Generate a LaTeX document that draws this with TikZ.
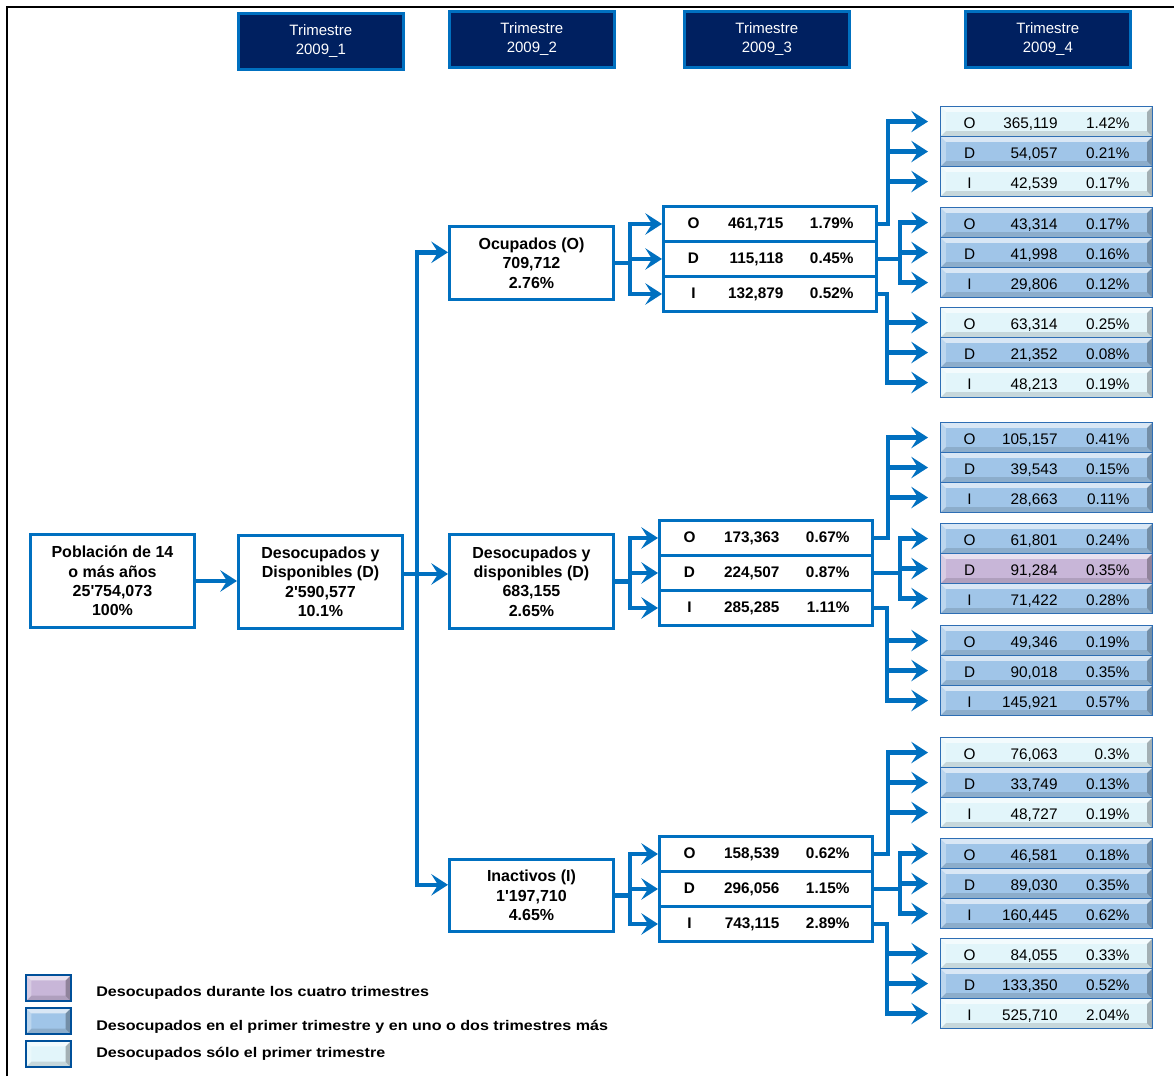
\documentclass[tikz,border=0pt]{standalone}
\usepackage{fontspec}
\setmainfont{Liberation Sans}
\newfontfamily\legfont{Liberation Sans}[FakeStretch=1.15]
\usetikzlibrary{arrows.meta,backgrounds}
\definecolor{cblue}{RGB}{0,112,192}
\definecolor{navy}{RGB}{0,32,96}
\definecolor{lightc}{RGB}{226,245,250}
\definecolor{medc}{RGB}{160,197,232}
\definecolor{purc}{RGB}{200,182,216}
\definecolor{rowline}{RGB}{46,110,180}
\definecolor{shad}{RGB}{20,40,80}
\newcommand\cthree[3]{\hbox to 159.75pt{\makebox[45pt][c]{#1}\makebox[45pt][r]{#2}\makebox[52.5pt][r]{#3}\hfil}}
\newcommand\cfour[3]{\hbox to 159pt{\rule{0pt}{12pt}\makebox[43.5pt][c]{#1}\makebox[44.25pt][r]{#2}\makebox[54pt][r]{#3}\hfil}}
\tikzset{
  hdr/.style={draw=cblue, line width=2pt, fill=navy, text=white, font=\fontsize{11.25}{14.25}\selectfont, align=center, minimum width=123.75pt, minimum height=42pt, inner sep=0pt, anchor=north west},
  bbox/.style={draw=cblue, line width=2.2pt, fill=white, font=\bfseries\fontsize{12}{14.6}\selectfont, align=center, minimum width=123pt, inner sep=0pt, anchor=north west},
  cthreerow/.style={draw=cblue, line width=2.2pt, fill=white, font=\bfseries\fontsize{11.5}{13}\selectfont, minimum width=159.75pt, minimum height=26.25pt, inner sep=0pt, anchor=north west},
  bev/.style={path picture={
    \fill[white,opacity=.6] (path picture bounding box.north west) -- (path picture bounding box.north east) -- ([shift={(-4pt,-4pt)}]path picture bounding box.north east) -- ([shift={(4pt,-4pt)}]path picture bounding box.north west) -- cycle;
    \fill[white,opacity=.3] (path picture bounding box.north west) -- ([shift={(4pt,-4pt)}]path picture bounding box.north west) -- ([shift={(4pt,4pt)}]path picture bounding box.south west) -- (path picture bounding box.south west) -- cycle;
    \fill[black,opacity=.12] (path picture bounding box.south west) -- ([shift={(4pt,4pt)}]path picture bounding box.south west) -- ([shift={(-4pt,4pt)}]path picture bounding box.south east) -- (path picture bounding box.south east) -- cycle;
    \fill[black,opacity=.28] (path picture bounding box.north east) -- (path picture bounding box.south east) -- ([shift={(-4pt,4pt)}]path picture bounding box.south east) -- ([shift={(-4pt,-4pt)}]path picture bounding box.north east) -- cycle;
  }},
  cfourrow/.style={draw=rowline, line width=0.8pt, fill=#1, bev, font=\fontsize{11.5}{13}\selectfont, minimum width=159pt, minimum height=22.5pt, inner sep=0pt, anchor=north west},
  legsq/.style={draw=navy!40!cblue, line width=1.5pt, fill=#1, bev, minimum width=33.75pt, minimum height=19.5pt, inner sep=0pt, anchor=north west},
  legtxt/.style={font=\legfont\bfseries\fontsize{10.5}{12}\selectfont, anchor=west, inner sep=0pt},
  conn/.style={draw=cblue, line width=3.4pt, -{Stealth[length=12.5pt,width=16pt,inset=5pt]}},
  connf/.style={conn, shorten >=9pt},
}
\begin{document}
\begin{tikzpicture}[x=0.75pt,y=-0.75pt]
\useasboundingbox (0,0) rectangle (1174,1076);
\fill[white] (0,0) rectangle (1174,1076);
\draw[line width=1.8pt] (7,1076) -- (7,7) -- (1174,7);

% headers
\node[hdr] (h1) at (237,12) {Trimestre\\2009\_1};
\node[hdr] (h2) at (448,10) {Trimestre\\2009\_2};
\node[hdr] (h3) at (683,10) {Trimestre\\2009\_3};
\node[hdr] (h4) at (964,10) {Trimestre\\2009\_4};

% main boxes
\node[bbox, minimum height=69.75pt] (pob) at (29,533) {Población de 14\\o más años\\25\textquotesingle 754,073\\100\%};
\node[bbox, minimum height=69.75pt] (dd) at (237,534) {Desocupados y\\Disponibles (D)\\2\textquotesingle 590,577\\10.1\%};
\node[bbox, minimum height=54.75pt] (ocup) at (448,225) {Ocupados (O)\\709,712\\2.76\%};
\node[bbox, minimum height=70.5pt] (desd) at (448,533) {Desocupados y\\disponibles (D)\\683,155\\2.65\%};
\node[bbox, minimum height=54pt] (inac) at (448,858) {Inactivos (I)\\1\textquotesingle 197,710\\4.65\%};

% third column rows
\node[cthreerow] (oO) at (662,205) {\cthree{O}{461,715}{1.79\%}};
\node[cthreerow] (oD) at (662,240) {\cthree{D}{115,118}{0.45\%}};
\node[cthreerow] (oI) at (662,275) {\cthree{I}{132,879}{0.52\%}};
\node[cthreerow] (dO) at (658,519) {\cthree{O}{173,363}{0.67\%}};
\node[cthreerow] (dD) at (658,554) {\cthree{D}{224,507}{0.87\%}};
\node[cthreerow] (dI) at (658,589) {\cthree{I}{285,285}{1.11\%}};
\node[cthreerow] (iO) at (658,835) {\cthree{O}{158,539}{0.62\%}};
\node[cthreerow] (iD) at (658,870) {\cthree{D}{296,056}{1.15\%}};
\node[cthreerow] (iI) at (658,905) {\cthree{I}{743,115}{2.89\%}};

% fourth column rows
\node[cfourrow=lightc] (ooo) at (940,106) {\cfour{O}{365,119}{1.42\%}};
\node[cfourrow=medc]   (ood) at (940,136) {\cfour{D}{54,057}{0.21\%}};
\node[cfourrow=lightc] (ooi) at (940,166) {\cfour{I}{42,539}{0.17\%}};
\node[cfourrow=medc]   (odo) at (940,207) {\cfour{O}{43,314}{0.17\%}};
\node[cfourrow=medc]   (odd) at (940,237) {\cfour{D}{41,998}{0.16\%}};
\node[cfourrow=medc]   (odi) at (940,267) {\cfour{I}{29,806}{0.12\%}};
\node[cfourrow=lightc] (oio) at (940,307) {\cfour{O}{63,314}{0.25\%}};
\node[cfourrow=medc]   (oid) at (940,337) {\cfour{D}{21,352}{0.08\%}};
\node[cfourrow=lightc] (oii) at (940,367) {\cfour{I}{48,213}{0.19\%}};
\node[cfourrow=medc]   (doo) at (940,422) {\cfour{O}{105,157}{0.41\%}};
\node[cfourrow=medc]   (dod) at (940,452) {\cfour{D}{39,543}{0.15\%}};
\node[cfourrow=medc]   (doi) at (940,482) {\cfour{I}{28,663}{0.11\%}};
\node[cfourrow=medc]   (ddo) at (940,523) {\cfour{O}{61,801}{0.24\%}};
\node[cfourrow=purc]   (ddd) at (940,553) {\cfour{D}{91,284}{0.35\%}};
\node[cfourrow=medc]   (ddi) at (940,583) {\cfour{I}{71,422}{0.28\%}};
\node[cfourrow=medc]   (dio) at (940,625) {\cfour{O}{49,346}{0.19\%}};
\node[cfourrow=medc]   (did) at (940,655) {\cfour{D}{90,018}{0.35\%}};
\node[cfourrow=medc]   (dii) at (940,685) {\cfour{I}{145,921}{0.57\%}};
\node[cfourrow=lightc] (ioo) at (940,737) {\cfour{O}{76,063}{0.3\%}};
\node[cfourrow=medc]   (iod) at (940,767) {\cfour{D}{33,749}{0.13\%}};
\node[cfourrow=lightc] (ioi) at (940,797) {\cfour{I}{48,727}{0.19\%}};
\node[cfourrow=medc]   (ido) at (940,838) {\cfour{O}{46,581}{0.18\%}};
\node[cfourrow=medc]   (idd) at (940,868) {\cfour{D}{89,030}{0.35\%}};
\node[cfourrow=medc]   (idi) at (940,898) {\cfour{I}{160,445}{0.62\%}};
\node[cfourrow=lightc] (iio) at (940,938) {\cfour{O}{84,055}{0.33\%}};
\node[cfourrow=medc]   (iid) at (940,968) {\cfour{D}{133,350}{0.52\%}};
\node[cfourrow=lightc] (iii) at (940,998) {\cfour{I}{525,710}{2.04\%}};

\begin{scope}[on background layer]
\foreach \g in {oo,od,oi,do,dd,di,io,id,ii}{
  \fill[shad] ([shift={(3pt,-3pt)}]\g o.north west) rectangle ([shift={(3pt,-3pt)}]\g i.south east);
}
\end{scope}

% legend
\node[legsq=purc] (lq1) at (25,974) {};
\node[legsq=medc] (lq2) at (25,1007) {};
\node[legsq=lightc] (lq3) at (25,1040) {};
\begin{scope}[on background layer]
\foreach \q in {lq1,lq2,lq3}{
  \fill[shad] ([shift={(2pt,-2pt)}]\q.north west) rectangle ([shift={(2pt,-2pt)}]\q.south east);
}
\end{scope}
\node[legtxt] (lt1) at (96,993) {Desocupados durante los cuatro trimestres};
\node[legtxt] (lt2) at (96,1027) {Desocupados en el primer trimestre y en uno o dos trimestres más};
\node[legtxt] (lt3) at (96,1054) {Desocupados sólo el primer trimestre};

% connectors
\coordinate (tr) at (417,0);
\coordinate (btwo) at (630,0);
\coordinate (bO) at (888,0);
\coordinate (bD) at (900,0);
\coordinate (bI) at (887,0);
\coordinate (ocupIn) at ([yshift=8pt]ocup.west);
\coordinate (inacIn) at ([yshift=8pt]inac.west);
\coordinate (ddOut) at ([yshift=6pt]dd.east);

\draw[conn] (pob) -- (pob -| dd.west);
\draw[conn] (ddOut) -- (ddOut -| desd.west);
\draw[conn] (ddOut) -| (tr |- ocupIn) -- (ocupIn);
\draw[conn] (ddOut) -| (tr |- inacIn) -- (inacIn);

\foreach \s/\a/\b/\c in {ocup/oO/oD/oI, desd/dO/dD/dI, inac/iO/iD/iI}{
  \draw[conn] (\s.east) -| (btwo |- \a.west) -- (\a.west);
  \draw[conn] (\s.east) -| (btwo |- \b.west) -- (\b.west);
  \draw[conn] (\s.east) -| (btwo |- \c.west) -- (\c.west);
}

\foreach \s/\g in {oO/oo, dO/do, iO/io}{
  \foreach \r in {o,d,i}{
    \draw[connf] (\s.east) -| (bO |- \g\r.west) -- (\g\r.west);
  }
}
\foreach \s/\g in {oD/od, dD/dd, iD/id}{
  \foreach \r in {o,d,i}{
    \draw[connf] (\s.east) -| (bD |- \g\r.west) -- (\g\r.west);
  }
}
\foreach \s/\g in {oI/oi, dI/di, iI/ii}{
  \foreach \r in {o,d,i}{
    \draw[connf] (\s.east) -| (bI |- \g\r.west) -- (\g\r.west);
  }
}
\end{tikzpicture}
\end{document}
